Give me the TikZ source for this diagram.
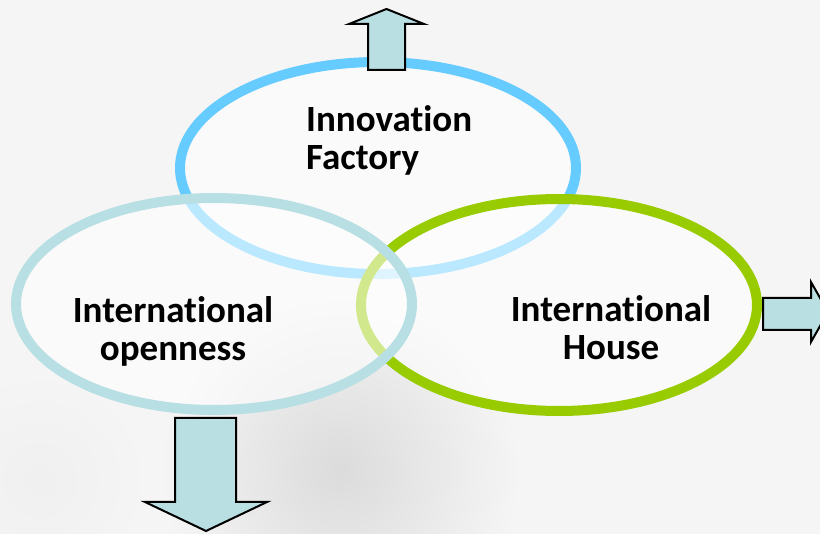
\documentclass[tikz,border=0pt]{standalone}
\usepackage{fontspec}
\setmainfont[Ligatures=NoCommon]{Carlito}
\usetikzlibrary{shapes.geometric}
\definecolor{bg}{HTML}{F5F5F5}
\definecolor{blueR}{HTML}{66CCFF}
\definecolor{tealR}{HTML}{B8DFE3}
\definecolor{greenR}{HTML}{99CC00}
\definecolor{arrowfill}{HTML}{B9DFE2}
\tikzset{
  ring/.style={ellipse, draw, line width=10pt, minimum width=396pt, minimum height=212pt, inner sep=0pt, fill=white, fill opacity=0.55, draw opacity=1},
  lbl/.style={font=\fontsize{37}{38}\selectfont\bfseries, inner sep=0pt, text=black},
  blockarrow/.style={fill=arrowfill, draw=black, line width=2pt, line join=miter}
}
\begin{document}
\begin{tikzpicture}[x=1pt,y=-1pt]
\useasboundingbox (0,0) rectangle (820,534);
\begin{scope}
\clip (0,0) rectangle (820,534);
\fill[bg] (0,0) rectangle (820,534);
\shade[inner color=black!14, outer color=bg] (340,470) circle (180pt);
\shade[inner color=black!6, outer color=bg] (40,480) circle (110pt);
\node[ring, draw=blueR] (fac) at (378,168) {};
\node[ring, draw=greenR] (house) at (559,305) {};
\node[ring, draw=tealR] (open) at (214,304) {};
\node[lbl, align=left, anchor=base west] (tfac) at (306,170) {Innovation\\Factory};
\node[lbl, align=center, anchor=base] (topen) at (173,361) {International\\openness};
\node[lbl, align=center, anchor=base] (thouse) at (611,360) {International\\House};
\draw[blockarrow] (368,70) -- (368,24) -- (349,24) -- (386.5,9) -- (424,24) -- (405,24) -- (405,70) -- cycle;
\draw[blockarrow] (763,298) -- (811,298) -- (811,282) -- (828,312) -- (811,342) -- (811,330) -- (763,330) -- cycle;
\draw[blockarrow] (175,418) -- (236,418) -- (236,502) -- (267,502) -- (206,531) -- (145,502) -- (175,502) -- cycle;
\end{scope}
\end{tikzpicture}
\end{document}
